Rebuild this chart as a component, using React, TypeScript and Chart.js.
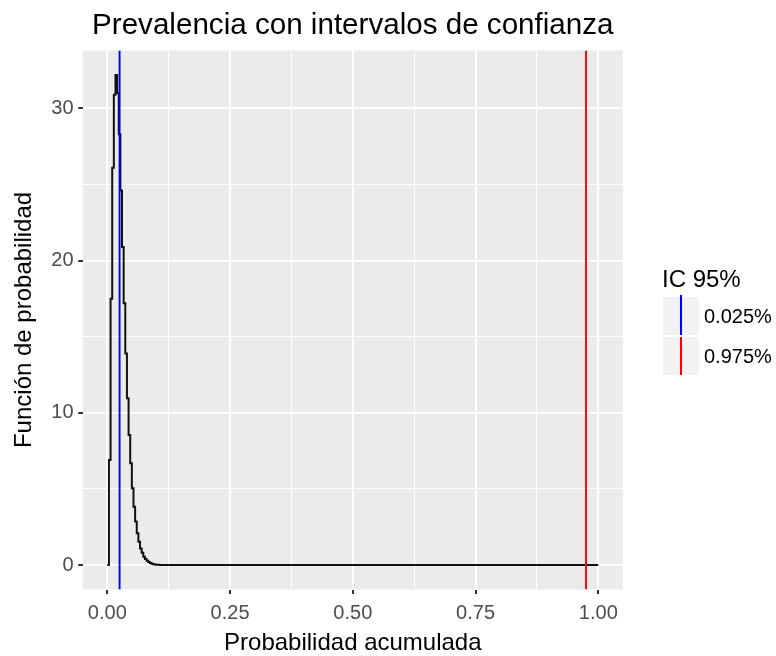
import React, { useEffect, useRef } from "react";
import { Chart, registerables } from "chart.js";

Chart.register(...registerables);

const titleText = "Prevalencia con intervalos de confianza";
const xAxisTitle = "Probabilidad acumulada";
const yAxisTitle = "Función de probabilidad";
const legendTitle = "IC 95%";
const legendLabels = ["0.025%", "0.975%"];
const legendColors = ["#0000FF", "#FF0000"];
const quantiles = [0.025, 0.975];

// step function (geom_step, hv) sampled every 1/300 on [0, 1]
const stepWidth = 1 / 300;
const density = [
  0, 6.9, 17.5, 26.1, 30.9, 32.2, 31.0, 28.3, 24.6, 20.9, 17.2, 13.9, 10.95,
  8.54, 6.68, 5.04, 3.83, 2.85, 2.08, 1.53, 1.09, 0.81, 0.55, 0.39, 0.28, 0.2,
  0.13, 0.09, 0.05, 0.03, 0.02, 0.01, 0,
];
const densityEnd = { x: 1, y: 0 };

const xTicks = [0, 0.125, 0.25, 0.375, 0.5, 0.625, 0.75, 0.875, 1];
const xMajor = [0, 0.25, 0.5, 0.75, 1];
const yTicks = [0, 5, 10, 15, 20, 25, 30];
const yMajor = [0, 10, 20, 30];
const xRange = [-0.05, 1.05];
const yRange = [-1.61, 33.81];

const FONT = "'Liberation Sans', Arial, Helvetica, sans-serif";

export default function App() {
  const ref = useRef<HTMLCanvasElement | null>(null);

  useEffect(() => {
    const canvas = ref.current;
    if (!canvas) return;
    const densityPoints = density
      .map((v, i) => ({ x: i * stepWidth, y: v }))
      .concat([densityEnd]);

    const bgPlugin = {
      id: "panelBg",
      beforeDraw(chart: any) {
        const { ctx, chartArea } = chart;
        ctx.save();
        ctx.fillStyle = "#FFFFFF";
        ctx.fillRect(0, 0, chart.width, chart.height);
        ctx.fillStyle = "#EBEBEB";
        ctx.fillRect(
          chartArea.left,
          chartArea.top,
          chartArea.right - chartArea.left,
          chartArea.bottom - chartArea.top
        );
        ctx.restore();
      },
    };

    const chart = new Chart(canvas, {
      type: "line",
      data: {
        datasets: [
          ...quantiles.map((q, k) => ({
            label: legendLabels[k],
            data: [
              { x: q, y: yRange[0] },
              { x: q, y: yRange[1] },
            ],
            borderColor: legendColors[k],
            borderWidth: 1.9,
            pointRadius: 0,
            order: 0,
          })),
          {
            label: "densidad",
            data: densityPoints,
            borderColor: "#111111",
            borderWidth: 2,
            pointRadius: 0,
            stepped: true,
            order: 1,
          },
        ],
      },
      options: {
        animation: false,
        responsive: false,
        events: [],
        layout: { padding: { left: 0, right: 153.15, top: 0, bottom: 0 } },
        plugins: {
          legend: { display: false },
          tooltip: { enabled: false },
          title: {
            display: true,
            text: titleText,
            color: "#000000",
            fullSize: false,
            font: { family: FONT, size: 29.6, weight: "normal", lineHeight: 1.2 },
            padding: { top: 8.3, bottom: 6.6 },
          },
        },
        scales: {
          x: {
            type: "linear",
            min: xRange[0],
            max: xRange[1],
            afterBuildTicks: (scale: any) => {
              scale.ticks = xTicks.map((v) => ({ value: v }));
            },
            afterFit: (scale: any) => {
              scale.height = 66.5;
            },
            border: { display: false },
            grid: {
              color: "#FFFFFF",
              lineWidth: (c: any) =>
                c.tick && xMajor.includes(c.tick.value) ? 2 : 1,
              drawTicks: true,
              tickLength: 4.5,
              tickWidth: 2,
              tickColor: (c: any) =>
                c.tick && xMajor.includes(c.tick.value)
                  ? "#333333"
                  : "rgba(0,0,0,0)",
            },
            ticks: {
              autoSkip: false,
              maxRotation: 0,
              padding: 7.1,
              color: "#4D4D4D",
              font: { family: FONT, size: 20 },
              callback: (v: any) =>
                xMajor.includes(v) ? Number(v).toFixed(2) : "",
            },
            title: {
              display: true,
              text: xAxisTitle,
              color: "#000000",
              font: { family: FONT, size: 24, lineHeight: 1 },
              padding: { top: 0, bottom: 0.7 },
            },
          },
          y: {
            type: "linear",
            min: yRange[0],
            max: yRange[1],
            afterBuildTicks: (scale: any) => {
              scale.ticks = yTicks.map((v) => ({ value: v }));
            },
            afterFit: (scale: any) => {
              scale.width = 82.75;
            },
            border: { display: false },
            grid: {
              color: "#FFFFFF",
              lineWidth: (c: any) =>
                c.tick && yMajor.includes(c.tick.value) ? 2 : 1,
              drawTicks: true,
              tickLength: 4.5,
              tickWidth: 2,
              tickColor: (c: any) =>
                c.tick && yMajor.includes(c.tick.value)
                  ? "#333333"
                  : "rgba(0,0,0,0)",
            },
            ticks: {
              autoSkip: false,
              padding: 4.7,
              color: "#4D4D4D",
              font: { family: FONT, size: 20 },
              callback: (v: any) => (yMajor.includes(v) ? String(v) : ""),
            },
            title: {
              display: true,
              text: yAxisTitle,
              color: "#000000",
              font: { family: FONT, size: 24, lineHeight: 1 },
              padding: { top: 12, bottom: 0 },
            },
          },
        },
      },
      plugins: [bgPlugin],
    } as any);

    return () => chart.destroy();
  }, []);

  return (
    <div
      style={{
        position: "absolute",
        left: 0,
        top: 0,
        width: 776,
        height: 656,
        background: "#FFFFFF",
        fontFamily: FONT,
      }}
    >
      <canvas
        ref={ref}
        width={776}
        height={656}
        style={{ display: "block", width: 776, height: 656 }}
      />
      <div
        style={{
          position: "absolute",
          left: 662,
          top: 266.7,
          fontSize: 24,
          lineHeight: "24px",
          color: "#000000",
          whiteSpace: "nowrap",
        }}
      >
        {legendTitle}
      </div>
      {legendLabels.map((lab, k) => (
        <React.Fragment key={lab}>
          <div
            style={{
              position: "absolute",
              left: 662.7,
              top: 296.7 + k * 40,
              width: 36.6,
              height: 38.4,
              background: "#F2F2F2",
            }}
          >
            <div
              style={{
                position: "absolute",
                left: 17.3,
                top: k === 0 ? -2 : 0,
                width: 2,
                height: k === 0 ? 40.4 : 38.4,
                background: legendColors[k],
              }}
            />
          </div>
          <div
            style={{
              position: "absolute",
              left: 704,
              top: 296.7 + k * 40,
              height: 38.4,
              lineHeight: "38.4px",
              fontSize: 20,
              color: "#000000",
              whiteSpace: "nowrap",
            }}
          >
            {lab}
          </div>
        </React.Fragment>
      ))}
    </div>
  );
}
